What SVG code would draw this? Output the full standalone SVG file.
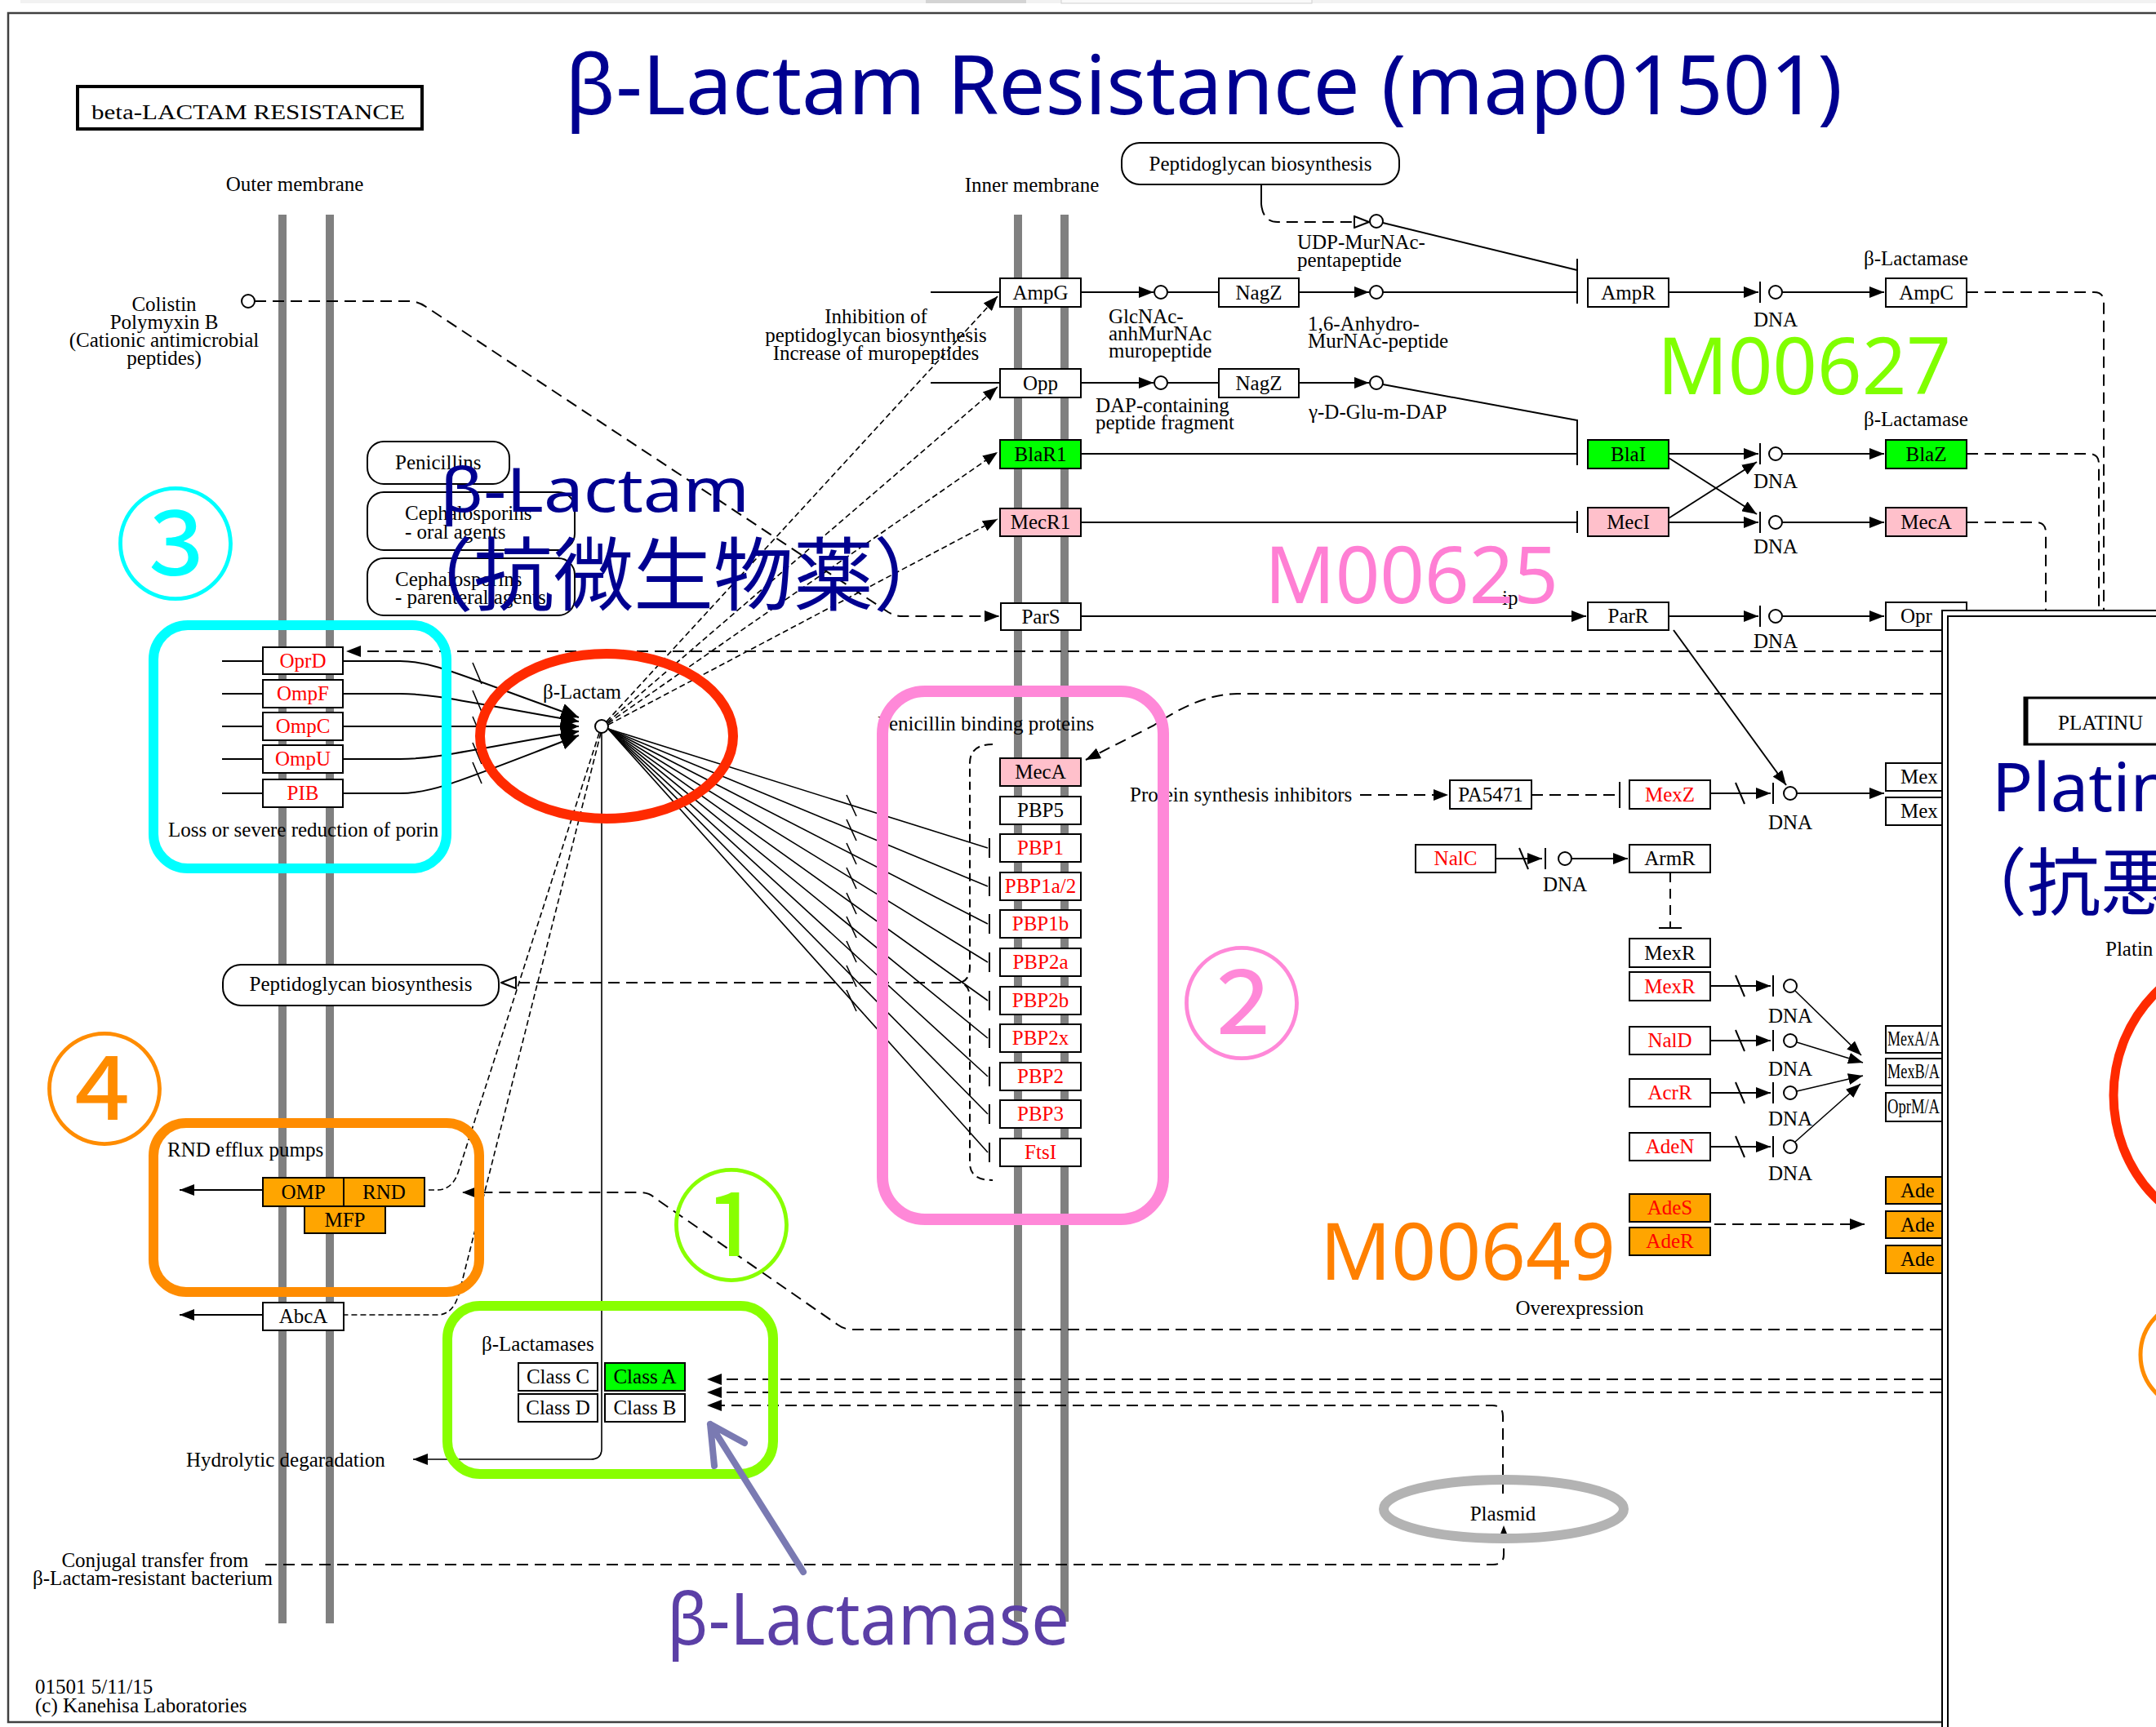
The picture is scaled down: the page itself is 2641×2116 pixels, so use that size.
<svg xmlns="http://www.w3.org/2000/svg" width="2641" height="2116" viewBox="0 0 2641 2116">
<style>
.t{font-family:"Liberation Serif","Times New Roman",serif;font-size:25px;fill:#000}
.m{text-anchor:middle}
.r{fill:#f00}
.b{fill:#fff;stroke:#000;stroke-width:2}
.bg{fill:#00ff00;stroke:#000;stroke-width:2}
.bp{fill:#ffc0cb;stroke:#000;stroke-width:2}
.bo{fill:#ffa500;stroke:#000;stroke-width:2}
.l{stroke:#000;stroke-width:2;fill:none}
.d{stroke:#000;stroke-width:2;fill:none;stroke-dasharray:14 8}
.f{stroke:#000;stroke-width:1.6;fill:none;stroke-dasharray:7 4}
.th{stroke:#000;stroke-width:1.6;fill:none}
.c{fill:#fff;stroke:#000;stroke-width:2}
.mem{fill:#808080}
.big{font-family:"Noto Sans","Open Sans",sans-serif}
.cjk{font-family:"Noto Sans CJK JP","Noto Sans",sans-serif}
</style>
<defs>
<marker id="a" viewBox="0 0 18 14" refX="18" refY="7" markerWidth="18" markerHeight="14" markerUnits="userSpaceOnUse" orient="auto"><path d="M0,0L18,7L0,14z" fill="#000"/></marker>
<marker id="ab" viewBox="0 0 22 20" refX="22" refY="10" markerWidth="22" markerHeight="20" markerUnits="userSpaceOnUse" orient="auto"><path d="M0,0L22,10L0,20z" fill="#000"/></marker>
<marker id="ao" viewBox="0 0 20 16" refX="19" refY="8" markerWidth="20" markerHeight="16" markerUnits="userSpaceOnUse" orient="auto"><path d="M1,1L19,8L1,15z" fill="#fff" stroke="#000" stroke-width="2"/></marker>
</defs>
<rect width="2641" height="2116" fill="#fff"/>
<g id="browser-remnants">
<rect x="25" y="0" width="2616" height="4" fill="#f2f2f2"/>
<rect x="1134" y="0" width="123" height="4" fill="#d4d4d4"/>
<rect x="1300" y="-2" width="307" height="6" fill="#fafafa" stroke="#d0d0d0" stroke-width="1"/>
</g>
<rect id="frame" x="10" y="16" width="2700" height="2094" fill="none" stroke="#404040" stroke-width="2.5"/>
<g id="membranes">
<rect class="mem" x="341" y="263" width="10" height="1726"/>
<rect class="mem" x="399" y="263" width="10" height="1726"/>
<rect class="mem" x="1242" y="263" width="10" height="1724"/>
<rect class="mem" x="1299" y="263" width="10" height="1724"/>
<text class="t m" x="361" y="234">Outer membrane</text>
<text class="t m" x="1264" y="235">Inner membrane</text>
</g>
<g id="map-title-box">
<rect x="95" y="106" width="422" height="52" fill="#fff" stroke="#000" stroke-width="4"/>
<text class="t" x="112" y="146" font-size="29" textLength="384" lengthAdjust="spacingAndGlyphs">beta-LACTAM RESISTANCE</text>
</g>

<g id="connectors">
<!-- colistin -> ParS -->
<path class="d" d="M312,369 H500 Q512,369 522,376 L1088,750 Q1096,755 1106,755 H1224" marker-end="url(#a)"/>
<!-- peptidoglycan top -->
<path class="l" d="M1545,226 V250"/>
<path class="d" d="M1545,250 Q1547,272 1565,272 H1677" marker-end="url(#ao)"/>
<line class="l" x1="1694" y1="273" x2="1932" y2="331"/>
<!-- AmpG row -->
<line class="l" x1="1140" y1="358" x2="1225" y2="358"/>
<line class="l" x1="1324" y1="358" x2="1413" y2="358" marker-end="url(#a)"/>
<line class="l" x1="1430" y1="358" x2="1493" y2="358"/>
<line class="l" x1="1591" y1="358" x2="1677" y2="358" marker-end="url(#a)"/>
<line class="l" x1="1694" y1="358" x2="1932" y2="358"/>
<line class="l" x1="1932" y1="317" x2="1932" y2="372"/>
<line class="l" x1="2044" y1="358" x2="2154" y2="358" marker-end="url(#a)"/>
<line class="l" x1="2156" y1="345" x2="2156" y2="371"/>
<line class="l" x1="2183" y1="358" x2="2308" y2="358" marker-end="url(#a)"/>
<!-- Opp row -->
<line class="l" x1="1140" y1="469" x2="1225" y2="469"/>
<line class="l" x1="1324" y1="469" x2="1413" y2="469" marker-end="url(#a)"/>
<line class="l" x1="1430" y1="469" x2="1493" y2="469"/>
<line class="l" x1="1591" y1="469" x2="1677" y2="469" marker-end="url(#a)"/>
<line class="l" x1="1694" y1="471" x2="1932" y2="515"/>
<line class="l" x1="1932" y1="514" x2="1932" y2="570"/>
<!-- BlaR1 row -->
<line class="l" x1="1324" y1="556" x2="1932" y2="556"/>
<line class="l" x1="2044" y1="556" x2="2154" y2="556" marker-end="url(#a)"/>
<line class="l" x1="2156" y1="543" x2="2156" y2="569"/>
<line class="l" x1="2183" y1="556" x2="2308" y2="556" marker-end="url(#a)"/>
<line class="l" x1="2044" y1="561" x2="2152" y2="630" marker-end="url(#a)"/>
<line class="l" x1="2044" y1="635" x2="2152" y2="566" marker-end="url(#a)"/>
<!-- MecR1 row -->
<line class="l" x1="1324" y1="640" x2="1932" y2="640"/>
<line class="l" x1="1932" y1="626" x2="1932" y2="653"/>
<line class="l" x1="2044" y1="640" x2="2154" y2="640" marker-end="url(#a)"/>
<line class="l" x1="2156" y1="627" x2="2156" y2="653"/>
<line class="l" x1="2183" y1="640" x2="2308" y2="640" marker-end="url(#a)"/>
<!-- ParS row -->
<line class="l" x1="1324" y1="755" x2="1943" y2="755" marker-end="url(#a)"/>
<line class="l" x1="2044" y1="755" x2="2154" y2="755" marker-end="url(#a)"/>
<line class="l" x1="2156" y1="742" x2="2156" y2="768"/>
<line class="l" x1="2183" y1="755" x2="2308" y2="755" marker-end="url(#a)"/>
<line class="l" x1="2050" y1="772" x2="2188" y2="962" marker-end="url(#a)"/>
<!-- right dashed verticals -->
<path class="d" d="M2409,358 H2565 Q2577,358 2577,370 V750"/>
<path class="d" d="M2409,556 H2559 Q2571,556 2571,568 V750"/>
<path class="d" d="M2409,640 H2494 Q2506,640 2506,652 V750"/>
<!-- long dashed lines -->
<path class="d" d="M2378,798 H424" marker-end="url(#a)"/>
<path class="d" d="M2378,850 H1516 Q1470,850 1413,889 L1330,931" marker-end="url(#a)"/>
<!-- beta-lactam up right -->
<line class="f" x1="743" y1="884" x2="1222" y2="363" marker-end="url(#a)"/>
<line class="f" x1="744" y1="885" x2="1222" y2="474" marker-end="url(#a)"/>
<line class="f" x1="745" y1="886" x2="1222" y2="554" marker-end="url(#a)"/>
<line class="f" x1="745" y1="888" x2="1222" y2="636" marker-end="url(#a)"/>
<!-- beta-lactam to PBPs -->
<line class="th" x1="745" y1="893" x2="1210" y2="1039"/>
<line class="th" x1="745" y1="893" x2="1210" y2="1086"/>
<line class="th" x1="745" y1="893" x2="1210" y2="1132"/>
<line class="th" x1="745" y1="893" x2="1210" y2="1179"/>
<line class="th" x1="745" y1="893" x2="1210" y2="1226"/>
<line class="th" x1="745" y1="893" x2="1210" y2="1272"/>
<line class="th" x1="745" y1="893" x2="1210" y2="1319"/>
<line class="th" x1="745" y1="893" x2="1210" y2="1365"/>
<line class="th" x1="745" y1="893" x2="1210" y2="1412"/>
<g class="th">
<path d="M1037,974 L1049,1000 M1037,1004 L1049,1030 M1037,1033 L1049,1059 M1037,1063 L1049,1089 M1037,1094 L1049,1120 M1037,1123 L1049,1149 M1037,1153 L1049,1179 M1037,1183 L1049,1209 M1037,1213 L1049,1239"/>
<path d="M1212,1027V1051 M1212,1074V1098 M1212,1120V1144 M1212,1167V1191 M1212,1214V1238 M1212,1260V1284 M1212,1307V1331 M1212,1353V1377 M1212,1400V1424" stroke-width="2"/>
</g>
<!-- porins -->
<path class="l" d="M272,810H322 M272,850H322 M272,890H322 M272,930H322 M272,972H322"/>
<path class="l" d="M420,810 H490 C530,810 560,826 709,879" marker-end="url(#ab)"/>
<path class="l" d="M420,850 H490 C530,850 560,858 709,884" marker-end="url(#ab)"/>
<path class="l" d="M420,890 H709" marker-end="url(#ab)"/>
<path class="l" d="M420,930 H490 C530,930 560,922 709,896" marker-end="url(#ab)"/>
<path class="l" d="M420,972 H490 C530,972 560,958 709,901" marker-end="url(#ab)"/>
<path class="th" d="M579,812 L590,838 M579,846 L590,872 M579,878 L590,904 M579,910 L590,936 M579,934 L590,960"/>
<!-- beta-lactam down -->
<path class="th" d="M737,898 V1775 Q737,1788 724,1788 H506" marker-end="url(#a)"/>
<path class="f" d="M734,898 L562,1434 Q555,1458 535,1458 H520"/>
<path class="f" d="M736,898 L563,1582 Q556,1611 536,1611 H421"/>
<line class="l" x1="322" y1="1458" x2="220" y2="1458" marker-end="url(#a)"/>
<line class="l" x1="322" y1="1611" x2="220" y2="1611" marker-end="url(#a)"/>
<path class="d" d="M2378,1629 H1045 Q1034,1629 1026,1623 L801,1467 Q795,1461 784,1461 H566" marker-end="url(#a)"/>
<!-- peptidoglycan left + brace -->
<path class="d" d="M1177,1204 H614" marker-end="url(#ao)"/>
<path class="d" style="stroke-dasharray:10 6" d="M1216,912 Q1188,912 1188,935 V1185 Q1188,1200 1177,1204 Q1188,1208 1188,1223 V1425 Q1188,1446 1216,1446"/>
<!-- lactamase arrows -->
<path class="d" d="M2378,1690 H866" marker-end="url(#a)"/>
<path class="d" d="M2378,1706 H866" marker-end="url(#a)"/>
<path class="d" d="M1841,1830 V1735 Q1841,1722 1828,1722 H866" marker-end="url(#a)"/>
<path class="d" d="M325,1917 H1829 Q1842,1917 1842,1905 V1869" marker-end="url(#a)"/>
<!-- PA5471 / MexZ -->
<path class="d" d="M1666,974 H1774" marker-end="url(#a)"/>
<path class="d" d="M1876,974 H1984"/>
<line class="l" x1="1984" y1="958" x2="1984" y2="990"/>
<line class="l" x1="2095" y1="972" x2="2169" y2="972" marker-end="url(#a)"/>
<line class="l" x1="2126" y1="959" x2="2137" y2="985"/>
<line class="l" x1="2172" y1="959" x2="2172" y2="985"/>
<line class="l" x1="2201" y1="972" x2="2308" y2="972" marker-end="url(#a)"/>
<!-- NalC -->
<line class="l" x1="1832" y1="1052" x2="1889" y2="1052" marker-end="url(#a)"/>
<line class="l" x1="1861" y1="1039" x2="1872" y2="1065"/>
<line class="l" x1="1893" y1="1039" x2="1893" y2="1065"/>
<line class="l" x1="1925" y1="1052" x2="1994" y2="1052" marker-end="url(#a)"/>
<path class="d" style="stroke-dasharray:12 8" d="M2046,1069 V1137"/>
<line class="l" x1="2032" y1="1137" x2="2060" y2="1137"/>
<!-- regulators -->
<line class="l" x1="2095" y1="1208" x2="2169" y2="1208" marker-end="url(#a)"/>
<line class="l" x1="2126" y1="1195" x2="2137" y2="1221"/>
<line class="l" x1="2172" y1="1195" x2="2172" y2="1221"/>
<line class="l" x1="2095" y1="1275" x2="2169" y2="1275" marker-end="url(#a)"/>
<line class="l" x1="2126" y1="1262" x2="2137" y2="1288"/>
<line class="l" x1="2172" y1="1262" x2="2172" y2="1288"/>
<line class="l" x1="2095" y1="1339" x2="2169" y2="1339" marker-end="url(#a)"/>
<line class="l" x1="2126" y1="1326" x2="2137" y2="1352"/>
<line class="l" x1="2172" y1="1326" x2="2172" y2="1352"/>
<line class="l" x1="2095" y1="1405" x2="2169" y2="1405" marker-end="url(#a)"/>
<line class="l" x1="2126" y1="1392" x2="2137" y2="1418"/>
<line class="l" x1="2172" y1="1392" x2="2172" y2="1418"/>
<line class="th" x1="2199" y1="1214" x2="2280" y2="1293" marker-end="url(#a)"/>
<line class="th" x1="2201" y1="1277" x2="2282" y2="1302" marker-end="url(#a)"/>
<line class="th" x1="2201" y1="1337" x2="2282" y2="1318" marker-end="url(#a)"/>
<line class="th" x1="2199" y1="1399" x2="2279" y2="1328" marker-end="url(#a)"/>
<path class="d" d="M2100,1500 H2284" marker-end="url(#a)"/>
</g>

<g id="compounds">
<circle class="c" cx="304" cy="369" r="8"/>
<circle class="c" cx="1686" cy="271" r="8"/>
<circle class="c" cx="1422" cy="358" r="8"/>
<circle class="c" cx="1686" cy="358" r="8"/>
<circle class="c" cx="1422" cy="469" r="8"/>
<circle class="c" cx="1686" cy="469" r="8"/>
<circle class="c" cx="2175" cy="358" r="8"/>
<circle class="c" cx="2175" cy="556" r="8"/>
<circle class="c" cx="2175" cy="640" r="8"/>
<circle class="c" cx="2175" cy="755" r="8"/>
<circle class="c" cx="2193" cy="972" r="8"/>
<circle class="c" cx="1917" cy="1052" r="8"/>
<circle class="c" cx="2193" cy="1208" r="8"/>
<circle class="c" cx="2193" cy="1275" r="8"/>
<circle class="c" cx="2193" cy="1339" r="8"/>
<circle class="c" cx="2193" cy="1405" r="8"/>
<circle class="c" cx="737" cy="890" r="8"/>
</g>

<g id="labels">
<text class="t m" x="201" y="381">Colistin</text>
<text class="t m" x="201" y="403">Polymyxin B</text>
<text class="t m" x="201" y="425">(Cationic antimicrobial</text>
<text class="t m" x="201" y="447">peptides)</text>
<text class="t" x="1589" y="305">UDP-MurNAc-</text>
<text class="t" x="1589" y="327">pentapeptide</text>
<text class="t" x="1358" y="396">GlcNAc-</text>
<text class="t" x="1358" y="417">anhMurNAc</text>
<text class="t" x="1358" y="438">muropeptide</text>
<text class="t" x="1602" y="405">1,6-Anhydro-</text>
<text class="t" x="1602" y="426">MurNAc-peptide</text>
<text class="t m" x="1073" y="396">Inhibition of</text>
<text class="t m" x="1073" y="419">peptidoglycan biosynthesis</text>
<text class="t m" x="1073" y="441">Increase of muropeptides</text>
<text class="t" x="1342" y="505">DAP-containing</text>
<text class="t" x="1342" y="526">peptide fragment</text>
<text class="t" x="1603" y="513">γ-D-Glu-m-DAP</text>
<text class="t m" x="2347" y="325">β-Lactamase</text>
<text class="t m" x="2347" y="522">β-Lactamase</text>
<text class="t m" x="2175" y="400">DNA</text>
<text class="t m" x="2175" y="598">DNA</text>
<text class="t m" x="2175" y="678">DNA</text>
<text class="t m" x="2175" y="794">DNA</text>
<text class="t m" x="2193" y="1016">DNA</text>
<text class="t m" x="1917" y="1092">DNA</text>
<text class="t m" x="2193" y="1253">DNA</text>
<text class="t m" x="2193" y="1318">DNA</text>
<text class="t m" x="2193" y="1379">DNA</text>
<text class="t m" x="2193" y="1446">DNA</text>
<text class="t" x="1840" y="741">ip</text>
<text class="t m" x="713" y="856">β-Lactam</text>
<text class="t" x="1075" y="895">Penicillin binding proteins</text>
<text class="t" x="1384" y="982">Protein synthesis inhibitors</text>
<text class="t" x="206" y="1025">Loss or severe reduction of porin</text>
<text class="t" x="205" y="1417">RND efflux pumps</text>
<text class="t" x="590" y="1655">β-Lactamases</text>
<text class="t" x="228" y="1797">Hydrolytic degaradation</text>
<text class="t m" x="1935" y="1611">Overexpression</text>
<text class="t m" x="190" y="1920">Conjugal transfer from</text>
<text class="t m" x="187" y="1942">β-Lactam-resistant bacterium</text>
<text class="t" x="43" y="2075">01501 5/11/15</text>
<text class="t" x="43" y="2098">(c) Kanehisa Laboratories</text>
</g>

<g id="n-pep-top"><rect class="b" x="1374" y="175" width="340" height="51" rx="22"/><text class="t m" x="1544" y="209">Peptidoglycan biosynthesis</text></g>
<g id="n-pep-left"><rect class="b" x="273" y="1182" width="338" height="50" rx="22"/><text class="t m" x="442" y="1214">Peptidoglycan biosynthesis</text></g>
<g id="n-penicillins"><rect class="b" x="450" y="541" width="174" height="52" rx="20"/><text class="t" x="484" y="575">Penicillins</text></g>
<g id="n-ceph-oral"><rect class="b" x="450" y="603" width="254" height="71" rx="20"/><text class="t" x="496" y="637">Cephalosporins</text><text class="t" x="496" y="660">- oral agents</text></g>
<g id="n-ceph-par"><rect class="b" x="450" y="684" width="254" height="70" rx="20"/><text class="t" x="484" y="718">Cephalosporins</text><text class="t" x="484" y="740">- parenteral agents</text></g>

<g id="n-AmpG"><rect class="b" x="1225" y="341" width="99" height="35"/><text class="t m" x="1274.5" y="367">AmpG</text></g>
<g id="n-NagZ1"><rect class="b" x="1493" y="341" width="98" height="35"/><text class="t m" x="1542" y="367">NagZ</text></g>
<g id="n-AmpR"><rect class="b" x="1945" y="341" width="99" height="35"/><text class="t m" x="1994.5" y="367">AmpR</text></g>
<g id="n-AmpC"><rect class="b" x="2310" y="341" width="99" height="35"/><text class="t m" x="2359.5" y="367">AmpC</text></g>
<g id="n-Opp"><rect class="b" x="1225" y="452" width="99" height="35"/><text class="t m" x="1274.5" y="478">Opp</text></g>
<g id="n-NagZ2"><rect class="b" x="1493" y="452" width="98" height="35"/><text class="t m" x="1542" y="478">NagZ</text></g>
<g id="n-BlaR1"><rect class="bg" x="1225" y="539" width="99" height="35"/><text class="t m" x="1274.5" y="565">BlaR1</text></g>
<g id="n-BlaI"><rect class="bg" x="1945" y="539" width="99" height="35"/><text class="t m" x="1994.5" y="565">BlaI</text></g>
<g id="n-BlaZ"><rect class="bg" x="2310" y="539" width="99" height="35"/><text class="t m" x="2359.5" y="565">BlaZ</text></g>
<g id="n-MecR1"><rect class="bp" x="1225" y="623" width="99" height="34"/><text class="t m" x="1274.5" y="648">MecR1</text></g>
<g id="n-MecI"><rect class="bp" x="1945" y="622" width="99" height="35"/><text class="t m" x="1994.5" y="648">MecI</text></g>
<g id="n-MecA-r"><rect class="bp" x="2310" y="622" width="99" height="35"/><text class="t m" x="2359.5" y="648">MecA</text></g>
<g id="n-ParS"><rect class="b" x="1226" y="739" width="98" height="33"/><text class="t m" x="1275" y="764">ParS</text></g>
<g id="n-ParR"><rect class="b" x="1945" y="738" width="99" height="34"/><text class="t m" x="1994.5" y="763">ParR</text></g>
<g id="n-Opr"><rect class="b" x="2310" y="738" width="99" height="34"/><text class="t" x="2328" y="763">Opr</text></g>

<g id="n-PBP">
<rect class="bp" x="1225" y="929" width="99" height="34"/><text class="t m" x="1274.5" y="954">MecA</text>
<rect class="b" x="1225" y="976" width="99" height="34"/><text class="t m" x="1274.5" y="1001">PBP5</text>
<rect class="b" x="1225" y="1022" width="99" height="34"/><text class="t m r" x="1274.5" y="1047">PBP1</text>
<rect class="b" x="1225" y="1069" width="99" height="34"/><text class="t m r" x="1274.5" y="1094">PBP1a/2</text>
<rect class="b" x="1225" y="1115" width="99" height="34"/><text class="t m r" x="1274.5" y="1140">PBP1b</text>
<rect class="b" x="1225" y="1162" width="99" height="34"/><text class="t m r" x="1274.5" y="1187">PBP2a</text>
<rect class="b" x="1225" y="1209" width="99" height="34"/><text class="t m r" x="1274.5" y="1234">PBP2b</text>
<rect class="b" x="1225" y="1255" width="99" height="34"/><text class="t m r" x="1274.5" y="1280">PBP2x</text>
<rect class="b" x="1225" y="1302" width="99" height="34"/><text class="t m r" x="1274.5" y="1327">PBP2</text>
<rect class="b" x="1225" y="1348" width="99" height="34"/><text class="t m r" x="1274.5" y="1373">PBP3</text>
<rect class="b" x="1225" y="1395" width="99" height="34"/><text class="t m r" x="1274.5" y="1420">FtsI</text>
</g>

<g id="n-PA5471"><rect class="b" x="1776" y="956" width="100" height="35"/><text class="t m" x="1826" y="982">PA5471</text></g>
<g id="n-MexZ"><rect class="b" x="1996" y="956" width="99" height="35"/><text class="t m r" x="2045.5" y="982">MexZ</text></g>
<g id="n-Mex1"><rect class="b" x="2310" y="935" width="99" height="34"/><text class="t" x="2328" y="960">Mex</text></g>
<g id="n-Mex2"><rect class="b" x="2310" y="977" width="99" height="34"/><text class="t" x="2328" y="1002">Mex</text></g>
<g id="n-NalC"><rect class="b" x="1734" y="1035" width="98" height="34"/><text class="t m r" x="1783" y="1060">NalC</text></g>
<g id="n-ArmR"><rect class="b" x="1996" y="1035" width="99" height="34"/><text class="t m" x="2045.5" y="1060">ArmR</text></g>
<g id="n-MexR-b"><rect class="b" x="1996" y="1150" width="99" height="35"/><text class="t m" x="2045.5" y="1176">MexR</text></g>
<g id="n-MexR-r"><rect class="b" x="1996" y="1191" width="99" height="35"/><text class="t m r" x="2045.5" y="1217">MexR</text></g>
<g id="n-NalD"><rect class="b" x="1996" y="1258" width="99" height="34"/><text class="t m r" x="2045.5" y="1283">NalD</text></g>
<g id="n-AcrR"><rect class="b" x="1996" y="1322" width="99" height="34"/><text class="t m r" x="2045.5" y="1347">AcrR</text></g>
<g id="n-AdeN"><rect class="b" x="1996" y="1388" width="99" height="34"/><text class="t m r" x="2045.5" y="1413">AdeN</text></g>
<g id="n-MexAB">
<rect class="b" x="2310" y="1257" width="99" height="33"/><text class="t" x="2312" y="1281" font-size="22" textLength="64" lengthAdjust="spacingAndGlyphs">MexA/A</text>
<rect class="b" x="2310" y="1297" width="99" height="33"/><text class="t" x="2312" y="1321" font-size="22" textLength="64" lengthAdjust="spacingAndGlyphs">MexB/A</text>
<rect class="b" x="2310" y="1339" width="99" height="35"/><text class="t" x="2312" y="1364" font-size="22" textLength="64" lengthAdjust="spacingAndGlyphs">OprM/A</text>
</g>
<g id="n-AdeS"><rect class="bo" x="1996" y="1463" width="99" height="34"/><text class="t m r" x="2045.5" y="1488">AdeS</text></g>
<g id="n-AdeR"><rect class="bo" x="1996" y="1504" width="99" height="34"/><text class="t m r" x="2045.5" y="1529">AdeR</text></g>
<g id="n-Ade-targets">
<rect class="bo" x="2310" y="1442" width="99" height="33"/><text class="t" x="2328" y="1467">Ade</text>
<rect class="bo" x="2310" y="1484" width="99" height="33"/><text class="t" x="2328" y="1509">Ade</text>
<rect class="bo" x="2310" y="1526" width="99" height="34"/><text class="t" x="2328" y="1551">Ade</text>
</g>

<g id="n-porins">
<rect class="b" x="322" y="793" width="98" height="33"/><text class="t m r" x="371" y="818">OprD</text>
<rect class="b" x="322" y="833" width="98" height="34"/><text class="t m r" x="371" y="858">OmpF</text>
<rect class="b" x="322" y="873" width="98" height="34"/><text class="t m r" x="371" y="898">OmpC</text>
<rect class="b" x="322" y="913" width="98" height="34"/><text class="t m r" x="371" y="938">OmpU</text>
<rect class="b" x="322" y="955" width="98" height="34"/><text class="t m r" x="371" y="980">PIB</text>
</g>
<g id="n-efflux">
<rect class="bo" x="322" y="1443" width="99" height="35"/><text class="t m" x="371.5" y="1469">OMP</text>
<rect class="bo" x="421" y="1443" width="99" height="35"/><text class="t m" x="470.5" y="1469">RND</text>
<rect class="bo" x="373" y="1478" width="99" height="33"/><text class="t m" x="422.5" y="1503">MFP</text>
</g>
<g id="n-AbcA"><rect class="b" x="322" y="1596" width="99" height="34"/><text class="t m" x="371.5" y="1621">AbcA</text></g>
<g id="n-classes">
<rect class="b" x="635" y="1670" width="97" height="34"/><text class="t m" x="683.5" y="1695">Class C</text>
<rect class="bg" x="741" y="1670" width="98" height="34"/><text class="t m" x="790" y="1695">Class A</text>
<rect class="b" x="635" y="1708" width="97" height="34"/><text class="t m" x="683.5" y="1733">Class D</text>
<rect class="b" x="741" y="1708" width="98" height="34"/><text class="t m" x="790" y="1733">Class B</text>
</g>
<g id="n-plasmid"><ellipse cx="1842" cy="1849" rx="147" ry="36" fill="none" stroke="#b3b3b3" stroke-width="12"/><text class="t m" x="1841" y="1863">Plasmid</text></g>

<g id="annotations">
<text class="big" x="692" y="140" font-size="100" fill="#000090" textLength="1565" lengthAdjust="spacingAndGlyphs">β-Lactam Resistance (map01501)</text>
<text class="big" x="2030" y="483" font-size="97" fill="#80ff00" textLength="360" lengthAdjust="spacingAndGlyphs">M00627</text>
<text class="big" x="1549" y="739" font-size="97" fill="#ff7fd4" textLength="360" lengthAdjust="spacingAndGlyphs">M00625</text>
<text class="big" x="1617" y="1568" font-size="97" fill="#ff8000" textLength="362" lengthAdjust="spacingAndGlyphs">M00649</text>
<text class="big" x="539" y="627" font-size="75" fill="#000090" textLength="379" lengthAdjust="spacingAndGlyphs">β-Lactam</text>
<text class="cjk" x="482" y="740" font-size="98" fill="#000090">（抗微生物薬）</text>
<text class="big" x="817" y="2015" font-size="88" fill="#5b3fa6" textLength="493" lengthAdjust="spacingAndGlyphs">β-Lactamase</text>
<ellipse cx="743" cy="902" rx="155" ry="101" fill="none" stroke="#ff2a00" stroke-width="12"/>
<rect x="188" y="766" width="359" height="298" rx="42" fill="none" stroke="#00ffff" stroke-width="12"/>
<rect x="1081" y="847" width="344" height="647" rx="52" fill="none" stroke="#ff88d8" stroke-width="14"/>
<rect x="188" y="1376" width="399" height="207" rx="40" fill="none" stroke="#ff8c00" stroke-width="12"/>
<rect x="548" y="1600" width="399" height="206" rx="40" fill="none" stroke="#88ff00" stroke-width="12"/>
<text class="cjk m" x="896" y="1558" font-size="150" fill="#88ff00">①</text>
<text class="cjk m" x="1521" y="1286" font-size="150" fill="#ff88d8">②</text>
<text class="cjk m" x="215" y="723" font-size="150" fill="#00ffff">③</text>
<text class="cjk m" x="128" y="1391" font-size="150" fill="#ff8c00">④</text>
<path d="M984,1926 L870,1745 M875,1796 L870,1745 L912,1768" fill="none" stroke="#7a7ab2" stroke-width="8" stroke-linecap="round" stroke-linejoin="round"/>
</g>

<g id="platinum-panel">
<rect x="2379" y="748" width="400" height="1500" fill="#fff" stroke="#000" stroke-width="2"/>
<rect x="2386" y="755" width="400" height="1500" fill="none" stroke="#000" stroke-width="2"/>
<rect x="2480" y="855" width="250" height="57" fill="#fff" stroke="#000" stroke-width="3"/>
<line x1="2482" y1="855" x2="2482" y2="912" stroke="#000" stroke-width="5"/>
<text class="t" x="2521" y="894" font-size="29">PLATINU</text>
<text class="big" x="2440" y="994" font-size="83" fill="#000090">Platin</text>
<text class="cjk" x="2393" y="1114" font-size="90" fill="#000090">（抗悪</text>
<text class="t" x="2579" y="1171">Platin</text>
<ellipse cx="2759" cy="1342" rx="170" ry="175" fill="none" stroke="#ff2a00" stroke-width="11"/>
<ellipse cx="2687" cy="1660" rx="65" ry="66" fill="none" stroke="#ff8c00" stroke-width="5"/>
</g>
</svg>
